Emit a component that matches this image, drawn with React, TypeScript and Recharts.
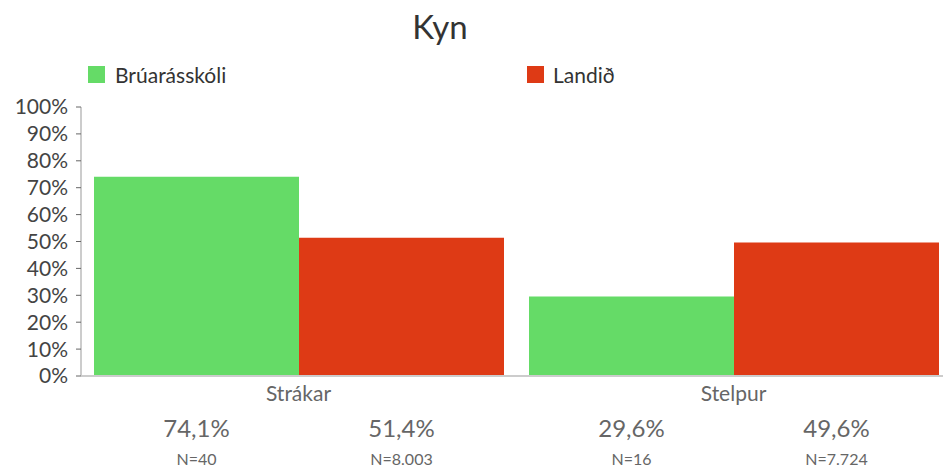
import { BarChart, Bar, XAxis, YAxis, LabelList } from 'recharts';

const categories = ['Strákar', 'Stelpur'];
const schoolValues = [74.1, 29.6];
const nationalValues = [51.4, 49.6];
const schoolN = [40, 16];
const nationalN = [8003, 7724];
const yTicks = [0, 10, 20, 30, 40, 50, 60, 70, 80, 90, 100];

const GREEN = '#65DB67';
const RED = '#DE3A15';
const FONT = 'Lato, "Open Sans", sans-serif';

const data = categories.map((name, i) => ({
  name,
  school: schoolValues[i],
  national: nationalValues[i],
  schoolN: schoolN[i],
  nationalN: nationalN[i],
}));

const fmtPct = (v: number) => v.toFixed(1).replace('.', ',') + '%';
const fmtN = (v: number) => 'N=' + v.toString().replace(/\B(?=(\d{3})+(?!\d))/g, '.');

const makeBelowLabel = (nKey: 'schoolN' | 'nationalN') => (props: any) => {
  const { x, y, width, height, value, index } = props;
  const cx = x + width / 2;
  const base = y + height;
  return (
    <g>
      <text x={cx} y={base + 61} textAnchor="middle" fontSize={24} fill="#666" fontFamily={FONT}>
        {fmtPct(value)}
      </text>
      <text x={cx} y={base + 89} textAnchor="middle" fontSize={16} fill="#666" fontFamily={FONT}>
        {fmtN(data[index][nKey])}
      </text>
    </g>
  );
};

const CategoryTick = (props: any) => {
  const { x, y, payload } = props;
  return (
    <text x={x} y={y + 17} textAnchor="middle" fontSize={21} fill="#666" fontFamily={FONT}>
      {payload.value}
    </text>
  );
};

export default function App() {
  return (
    <div style={{ position: 'absolute', left: 0, top: 0, width: 943, height: 471, overflow: 'hidden', background: '#fff', fontFamily: FONT }}>
      <div style={{ position: 'absolute', left: 0, width: 880, top: 6, textAlign: 'center', fontSize: 33, color: '#333' }}>
        Kyn
      </div>
      <div style={{ position: 'absolute', left: 88, top: 62, display: 'flex', alignItems: 'center', fontSize: 21, color: '#333' }}>
        <span style={{ width: 17, height: 17, background: GREEN, display: 'inline-block', marginRight: 10 }} />
        Brúarásskóli
      </div>
      <div style={{ position: 'absolute', left: 527, top: 62, display: 'flex', alignItems: 'center', fontSize: 21, color: '#333' }}>
        <span style={{ width: 17, height: 17, background: RED, display: 'inline-block', marginRight: 9 }} />
        Landið
      </div>
      <BarChart
        width={943}
        height={471}
        data={data}
        margin={{ top: 107, right: -8, bottom: 65, left: 0 }}
        barGap={0}
        barCategoryGap={13}
      >
        <XAxis
          dataKey="name"
          height={30}
          axisLine={{ stroke: '#ccc', strokeWidth: 2 }}
          tickLine={false}
          tick={<CategoryTick />}
          interval={0}
        />
        <YAxis
          width={81}
          domain={[0, 100]}
          ticks={yTicks}
          interval={0}
          tickFormatter={(v) => `${v}%`}
          axisLine={{ stroke: '#ccc', strokeWidth: 2 }}
          tickLine={{ stroke: '#666' }}
          tickSize={5}
          tickMargin={8}
          tick={{ fontSize: 21, fill: '#444', fontFamily: FONT }}
        />
        <Bar dataKey="school" fill={GREEN} isAnimationActive={false}>
          <LabelList dataKey="school" content={makeBelowLabel('schoolN')} />
        </Bar>
        <Bar dataKey="national" fill={RED} isAnimationActive={false}>
          <LabelList dataKey="national" content={makeBelowLabel('nationalN')} />
        </Bar>
      </BarChart>
    </div>
  );
}
